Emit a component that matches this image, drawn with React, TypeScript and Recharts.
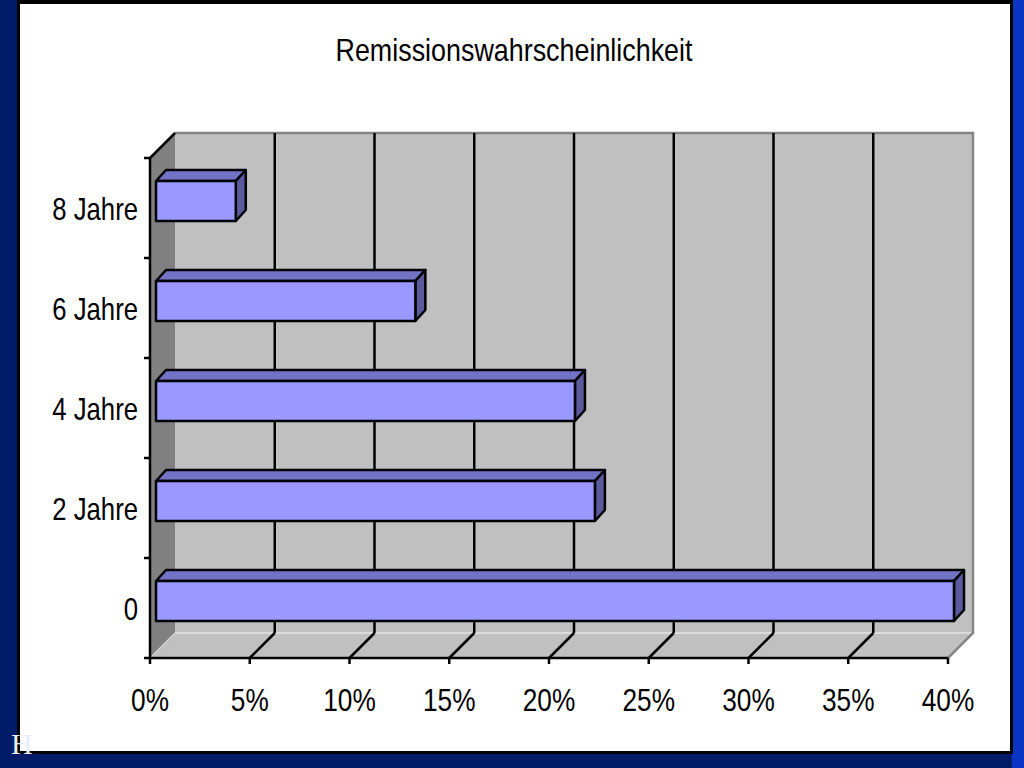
import React from "react";
import { BarChart, Bar, XAxis, YAxis, ReferenceArea } from "recharts";

// remission probability by time since diagnosis
const categories = ["8 Jahre", "6 Jahre", "4 Jahre", "2 Jahre", "0"];
const remission = [4, 13, 21, 22, 40];
const xTicks = [0, 5, 10, 15, 20, 25, 30, 35, 40];

const chartData = categories.map((cat, i) => ({ cat, value: remission[i] }));

const FONT = "'Liberation Sans', Arial, Helvetica, sans-serif";
const DEPTH_X = 25;
const DEPTH_Y = 25;

const Walls = (props: any) => {
  const { x, y, width, height } = props;
  const bottom = y + height;
  const right = x + width;
  const lo = xTicks[0];
  const hi = xTicks[xTicks.length - 1];
  const gx = (t: number) => x + (width * (t - lo)) / (hi - lo);
  return (
    <g>
      <polygon
        points={`${x + DEPTH_X},${y - DEPTH_Y} ${right + DEPTH_X},${y - DEPTH_Y} ${right + DEPTH_X},${bottom - DEPTH_Y} ${x + DEPTH_X},${bottom - DEPTH_Y}`}
        fill="#c0c0c0"
      />
      <polygon
        points={`${x},${y} ${x + DEPTH_X},${y - DEPTH_Y} ${x + DEPTH_X},${bottom - DEPTH_Y} ${x},${bottom}`}
        fill="#808080"
      />
      <polygon
        points={`${x},${bottom} ${x + DEPTH_X},${bottom - DEPTH_Y} ${right + DEPTH_X},${bottom - DEPTH_Y} ${right},${bottom}`}
        fill="#c0c0c0"
      />
      <line x1={x + DEPTH_X} y1={bottom - DEPTH_Y} x2={right + DEPTH_X} y2={bottom - DEPTH_Y} stroke="#e4e4e4" strokeWidth={1.5} />
      <line x1={x} y1={bottom} x2={x + DEPTH_X} y2={bottom - DEPTH_Y} stroke="#d0d0d0" strokeWidth={1.5} />
      <polyline
        points={`${x + DEPTH_X},${y - DEPTH_Y} ${right + DEPTH_X},${y - DEPTH_Y} ${right + DEPTH_X},${bottom - DEPTH_Y} ${right},${bottom}`}
        fill="none"
        stroke="#858585"
        strokeWidth={2.5}
      />
      {xTicks.slice(1, -1).map((t) => (
        <g key={t}>
          <line x1={gx(t) + DEPTH_X} y1={y - DEPTH_Y} x2={gx(t) + DEPTH_X} y2={bottom - DEPTH_Y} stroke="#000" strokeWidth={2.5} />
          <line x1={gx(t)} y1={bottom} x2={gx(t) + DEPTH_X} y2={bottom - DEPTH_Y} stroke="#000" strokeWidth={2.5} />
        </g>
      ))}
      <line x1={x} y1={y} x2={x + DEPTH_X} y2={y - DEPTH_Y} stroke="#000" strokeWidth={2.5} />
      {categories.concat([""]).map((_, j) => {
        const ty = y + (height * j) / categories.length;
        return <line key={j} x1={x - 6} y1={ty} x2={x} y2={ty} stroke="#000" strokeWidth={2.5} />;
      })}
    </g>
  );
};

const Bar3D = (props: any) => {
  const { x, y, width, height } = props;
  const fx = x + 6;
  const fy = y - 7;
  const d = 10;
  const dv = 11;
  return (
    <g stroke="#000" strokeWidth={2.5} strokeLinejoin="round">
      <polygon
        points={`${fx},${fy} ${fx + d},${fy - dv} ${fx + width + d},${fy - dv} ${fx + width},${fy}`}
        fill="#7373c6"
      />
      <polygon
        points={`${fx + width},${fy} ${fx + width + d},${fy - dv} ${fx + width + d},${fy + height - dv} ${fx + width},${fy + height}`}
        fill="#5a5a9c"
      />
      <rect x={fx} y={fy} width={width} height={height} fill="#9999ff" />
    </g>
  );
};

const XTick = (props: any) => {
  const { x, y, payload } = props;
  return (
    <text
      transform={`translate(${x},${y + 45}) scale(0.82,1)`}
      textAnchor="middle"
      fontFamily={FONT}
      fontSize={32}
      fill="#000"
    >
      {`${payload.value}%`}
    </text>
  );
};

const YTick = (props: any) => {
  const { x, y, payload } = props;
  return (
    <text
      transform={`translate(${x},${y + 12}) scale(0.83,1)`}
      textAnchor="end"
      fontFamily={FONT}
      fontSize={31}
      fill="#000"
    >
      {payload.value}
    </text>
  );
};

export default function App() {
  return (
    <div
      style={{
        position: "absolute",
        left: 0,
        top: 0,
        width: 1024,
        height: 768,
        background: "#001c68",
        overflow: "hidden",
      }}
    >
      <div style={{ position: "absolute", left: 1012, top: 0, width: 12, height: 768, background: "#0a34c4" }} />
      <div style={{ position: "absolute", left: 17, top: 0, width: 996, height: 754, background: "#000" }} />
      <div style={{ position: "absolute", left: 20, top: 4, width: 990, height: 747, background: "#fff" }} />
      <svg style={{ position: "absolute", left: 0, top: 0 }} width={1024} height={768}>
        <text
          transform="translate(514,61) scale(0.84,1)"
          textAnchor="middle"
          fontFamily={FONT}
          fontSize={32}
          fill="#000"
        >
          Remissionswahrscheinlichkeit
        </text>
      </svg>
      <div style={{ position: "absolute", left: 0, top: 0 }}>
        <BarChart
          width={1024}
          height={768}
          data={chartData}
          layout="vertical"
          margin={{ top: 158, right: 76, bottom: 0, left: 0 }}
        >
          <XAxis
            type="number"
            domain={[0, 40]}
            ticks={xTicks}
            interval={0}
            height={110}
            axisLine={{ stroke: "#000", strokeWidth: 2.5 }}
            tickLine={{ stroke: "#000", strokeWidth: 2.5 }}
            tickSize={6}
            tickMargin={2}
            tick={<XTick />}
          />
          <YAxis
            type="category"
            dataKey="cat"
            width={150}
            axisLine={{ stroke: "#000", strokeWidth: 2.5 }}
            tickLine={false}
            tickSize={0}
            tickMargin={12}
            interval={0}
            tick={<YTick />}
          />
          <ReferenceArea x1={0} x2={40} ifOverflow="visible" shape={<Walls />} />
          <Bar dataKey="value" barSize={40} shape={<Bar3D />} isAnimationActive={false} />
        </BarChart>
      </div>
      <svg style={{ position: "absolute", left: 0, top: 0, pointerEvents: "none" }} width={1024} height={768}>
        <text x={11} y={754} fontFamily="'Liberation Serif', 'Times New Roman', serif" fontSize={30} fill="#e8eeff">
          H
        </text>
      </svg>
    </div>
  );
}
